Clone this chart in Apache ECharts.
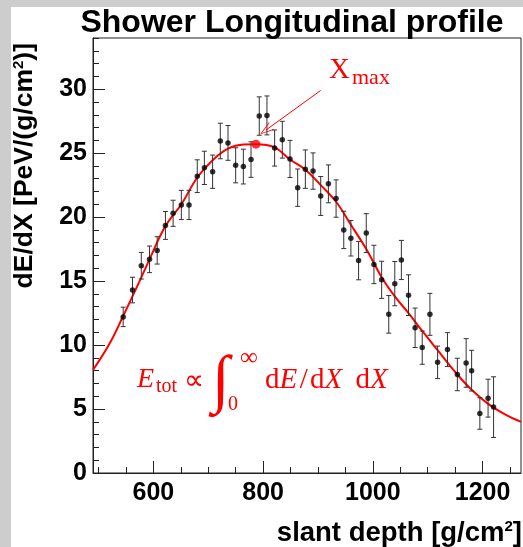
<!DOCTYPE html>
<html>
<head>
<meta charset="utf-8">
<style>
  html, body { margin: 0; padding: 0; background: #ffffff; }
  #chart { width: 523px; height: 547px; }
</style>
<script src="https://cdn.jsdelivr.net/npm/echarts@6/dist/echarts.min.js"></script>
</head>
<body>
<div id="chart"></div>
<script>
// Measured energy deposit per slant depth bin
const depth = [545, 562, 578, 593, 607, 622, 636, 651, 665, 680, 693, 708, 722, 736, 750, 764, 778, 793, 807, 821, 835, 849, 863, 877, 891, 905, 919, 933, 947, 960, 974, 988, 1002, 1016, 1029, 1040, 1052, 1065, 1077, 1090, 1104, 1118, 1136, 1154, 1170, 1180, 1195, 1210, 1220];
const dEdX = [12.2, 14.3, 16.2, 16.7, 17.4, 19.35, 20.3, 20.95, 20.95, 23.2, 23.85, 23.55, 25.95, 25.8, 24.05, 23.95, 24.5, 27.9, 27.95, 25.4, 26.05, 24.55, 22.3, 23.75, 23.6, 21.65, 22.6, 21.45, 19.0, 18.35, 16.6, 18.75, 16.3, 15.1, 12.4, 14.8, 16.65, 13.9, 11.35, 9.8, 12.4, 8.65, 9.65, 7.7, 8.6, 8.0, 4.65, 5.85, 5.15];
const dEdXErr = [0.76, 1.0, 1.04, 1.04, 1.07, 1.09, 1.02, 1.14, 1.14, 1.28, 1.3, 1.3, 1.39, 1.36, 1.37, 1.36, 1.39, 1.5, 1.52, 1.41, 1.44, 1.45, 1.46, 1.5, 1.42, 1.52, 1.48, 1.46, 1.46, 1.39, 1.5, 1.52, 1.5, 1.45, 1.47, 1.73, 1.53, 1.59, 1.54, 1.3, 1.64, 1.27, 1.32, 1.27, 1.9, 1.59, 1.23, 1.48, 2.37];

// Fitted profile function sampled along the depth range
const fitDepth = [490, 520, 545, 575, 593, 622, 651, 680, 708, 736, 764, 787, 821, 849, 877, 905, 933, 960, 988, 1016, 1040, 1065, 1090, 1118, 1154, 1180, 1210, 1240, 1270];
const fitValue = [8.05, 10.1, 12.27, 15.0, 16.7, 19.3, 21.0, 23.1, 24.45, 25.35, 25.68, 25.7, 25.45, 24.5, 23.7, 22.5, 21.2, 19.4, 17.5, 15.3, 13.8, 12.5, 11.1, 9.6, 7.7, 6.5, 5.4, 4.6, 4.0];

// Shower maximum and the arrow pointing at it
const xmaxPoint = [787, 25.7];
const arrowFrom = [905, 29.9];
const arrowTo = [805, 26.8];

// Axis ticks
const xMajorTicks = [600, 800, 1000, 1200];
const xMinorTicks = [500, 550, 650, 700, 750, 850, 900, 950, 1050, 1100, 1150, 1250];
const yMajorTicks = [0, 5, 10, 15, 20, 25, 30];
const yMinorTicks = [];
for (let v = 0; v <= 34; v++) if (v % 5 !== 0) yMinorTicks.push(v);

const X_MIN = 490, X_MAX = 1270, Y_MIN = 0, Y_MAX = 34;

const points = depth.map((d, i) => [d, dEdX[i]]);
const bars = depth.map((d, i) => [d, dEdX[i] - dEdXErr[i], dEdX[i] + dEdXErr[i]]);
const fitLine = fitDepth.map((d, i) => [d, fitValue[i]]);

const sans = '"Liberation Sans", Arial, sans-serif';
const serif = '"Liberation Serif", "Times New Roman", serif';
const red = '#ff0000';

const chart = echarts.init(document.getElementById('chart'), null, { renderer: 'canvas' });

const labelStyle = { fontFamily: sans, fontWeight: 'bold', fontSize: 25, color: '#000' };

function serifText(x, y, text, font) {
  return { type: 'text', x: x, y: y, z: 100,
    style: { text: text, font: font, fill: red, align: 'left', verticalAlign: 'middle' } };
}

chart.setOption({
  backgroundColor: '#ffffff',
  animation: false,
  grid: { left: 93, right: 2, top: 38, bottom: 74, show: true, borderColor: '#222', borderWidth: 1, backgroundColor: 'transparent' },
  xAxis: [
    {
      type: 'value', min: X_MIN, max: X_MAX, position: 'bottom',
      axisLine: { show: true, onZero: false, lineStyle: { color: '#222', width: 1 } },
      axisTick: { show: true, inside: true, length: 12, lineStyle: { color: '#222' }, customValues: xMajorTicks },
      axisLabel: Object.assign({ margin: 8, customValues: xMajorTicks, formatter: v => String(v) }, labelStyle),
      splitLine: { show: false }
    },
    {
      type: 'value', min: X_MIN, max: X_MAX, position: 'bottom',
      axisLine: { show: false, onZero: false },
      axisTick: { show: true, inside: true, length: 6, lineStyle: { color: '#222' }, customValues: xMinorTicks },
      axisLabel: { show: false },
      splitLine: { show: false }
    }
  ],
  yAxis: [
    {
      type: 'value', min: Y_MIN, max: Y_MAX, position: 'left',
      axisLine: { show: true, onZero: false, lineStyle: { color: '#222', width: 1 } },
      axisTick: { show: true, inside: true, length: 12, lineStyle: { color: '#222' }, customValues: yMajorTicks },
      axisLabel: Object.assign({ margin: 6, customValues: yMajorTicks, formatter: v => String(v) }, labelStyle),
      splitLine: { show: false }
    },
    {
      type: 'value', min: Y_MIN, max: Y_MAX, position: 'left',
      axisLine: { show: false, onZero: false },
      axisTick: { show: true, inside: true, length: 6, lineStyle: { color: '#222' }, customValues: yMinorTicks },
      axisLabel: { show: false },
      splitLine: { show: false }
    }
  ],
  series: [
    {
      name: 'fit', type: 'line', data: fitLine, smooth: 0.4, showSymbol: false, symbol: 'none',
      lineStyle: { color: red, width: 2 }, z: 2, silent: true
    },
    {
      name: 'errors', type: 'custom', data: bars, z: 3,
      renderItem: function (params, api) {
        const x = api.value(0);
        const lo = api.coord([x, api.value(1)]);
        const hi = api.coord([x, api.value(2)]);
        const cap = 2.5;
        const st = { stroke: '#333', lineWidth: 1 };
        return {
          type: 'group',
          children: [
            { type: 'line', shape: { x1: lo[0], y1: lo[1], x2: hi[0], y2: hi[1] }, style: st },
            { type: 'line', shape: { x1: lo[0] - cap, y1: lo[1], x2: lo[0] + cap, y2: lo[1] }, style: st },
            { type: 'line', shape: { x1: hi[0] - cap, y1: hi[1], x2: hi[0] + cap, y2: hi[1] }, style: st }
          ]
        };
      }
    },
    {
      name: 'data', type: 'scatter', data: points, symbol: 'circle', symbolSize: 5.5,
      itemStyle: { color: '#000' }, z: 4
    },
    {
      name: 'xmax', type: 'scatter', data: [xmaxPoint], symbol: 'circle', symbolSize: 9,
      itemStyle: { color: red }, z: 5,
      markLine: {
        silent: true, animation: false,
        symbol: ['none', 'path://M5,0 L10,10 L9,10 L5,1.6 L1,10 L0,10 Z'],
        symbolSize: [9, 14],
        lineStyle: { color: red, width: 1, type: 'solid' },
        label: { show: false },
        data: [[{ coord: arrowFrom }, { coord: arrowTo }]]
      }
    }
  ],
  graphic: [
    { type: 'rect', shape: { x: 0, y: 0, width: 11, height: 547 }, style: { fill: '#cdcdcd' }, z: 100 },
    { type: 'rect', shape: { x: 0, y: 0, width: 523, height: 7 }, style: { fill: '#cdcdcd' }, z: 100 },
    { type: 'text', x: 292, y: 23, z: 100,
      style: { text: 'Shower Longitudinal profile', font: 'bold 32px ' + sans, fill: '#000', align: 'center', verticalAlign: 'middle' } },
    { type: 'text', x: 25, y: 43, rotation: Math.PI / 2, z: 100,
      style: {
        text: '{b|dE/dX [PeV/(g/cm}{s|2}{b|)]}', align: 'right', verticalAlign: 'middle',
        rich: {
          b: { font: 'bold 26.5px ' + sans, fill: '#000' },
          s: { font: 'bold 15px ' + sans, fill: '#000', verticalAlign: 'top' }
        }
      } },
    { type: 'text', x: 522, y: 533, z: 100,
      style: {
        text: '{b|slant depth [g/cm}{s|2}{b|]}', align: 'right', verticalAlign: 'middle',
        rich: {
          b: { font: 'bold 27.5px ' + sans, fill: '#000' },
          s: { font: 'bold 15px ' + sans, fill: '#000', verticalAlign: 'top' }
        }
      } },
    // X_max label
    serifText(329, 70, 'X', '29px ' + serif),
    serifText(352, 78, 'max', '22px ' + serif),
    // E_tot ∝ ∫_0^∞ dE/dX dX
    serifText(137, 380, 'E', 'italic 28px ' + serif),
    serifText(156, 387, 'tot', '20px ' + serif),
    serifText(184, 382, '∝', '28px ' + serif),
    serifText(212, 383, '∫', '64px ' + serif),
    serifText(240, 358, '∞', '25px ' + serif),
    serifText(228, 405, '0', '20px ' + serif),
    { type: 'text', x: 265, y: 380, z: 100,
      style: {
        text: '{u|d}{i|E}{u|\u200a/\u200ad}{i|X}{u|\u2009 d}{i|X}', fill: red, align: 'left', verticalAlign: 'middle',
        rich: {
          u: { font: '29px ' + serif, fill: red },
          i: { font: 'italic 29px ' + serif, fill: red }
        }
      } }
  ]
});
</script>
</body>
</html>
